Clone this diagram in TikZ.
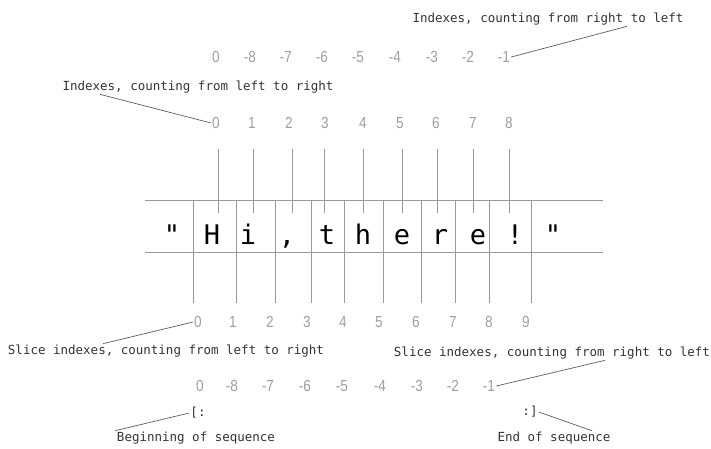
\documentclass[tikz,border=0pt]{standalone}
\usepackage{fontspec}
\usepackage{tikz}
\newfontfamily\notefont{DejaVu Sans Mono}
\newfontfamily\numfont[FakeStretch=0.85]{Liberation Sans}
\newfontfamily\glyphfont{DejaVu Sans Mono}
\definecolor{rulegray}{gray}{0.6}
\definecolor{numgray}{gray}{0.62}
\definecolor{noteink}{gray}{0.2}

\begin{document}
\begin{tikzpicture}[x=1pt, y=-1pt, every node/.style={inner sep=1pt},
	idx/.style={font=\numfont\fontsize{16}{16}\selectfont, text=numgray},
	note/.style={font=\notefont\fontsize{12.5}{12.5}\selectfont, text=noteink},
	glyph/.style={font=\glyphfont\fontsize{27}{27}\selectfont, anchor=base},
	rule/.style={draw=rulegray, line width=0.8pt},
	callout/.style={draw=noteink!80, line width=0.7pt}]
	\useasboundingbox (0,0) rectangle (711,448);
	% the string in its cells
	\draw[rule] (145,200) -- (603,200);
	\draw[rule] (145,252) -- (603,252);
	\foreach \x/\c [count=\i] in {172/{"},212/H,248/i,287/{,},327/t,363/h,402/e,440/r,478/e,515/!,553/{"}}
		\node[glyph] (ch\i) at (\x,244) {\c};
	\foreach \x in {218,253,292,324,363,402,437,473,509}
		\draw[rule] (\x,149) -- (\x,213);
	\foreach \x in {193,236,275,311,344,383,421,455,489,531}
		\draw[rule] (\x,200) -- (\x,303);
	% index numbers
	\foreach \x/\t [count=\i] in {216/0,250/-8,286/-7,322/-6,358/-5,395/-4,432/-3,468/-2,504/-1}
		\node[idx] (negtop\i) at (\x,57) {\t};
	\foreach \x/\t [count=\i] in {216/0,252/1,289/2,325/3,363/4,400/5,436/6,473/7,509/8}
		\node[idx] (top\i) at (\x,123) {\t};
	\foreach \x/\t [count=\i] in {198/0,233/1,270/2,307/3,343/4,379/5,416/6,453/7,489/8,526/9}
		\node[idx] (slice\i) at (\x,322) {\t};
	\foreach \x/\t [count=\i] in {200/0,232/-8,268/-7,305/-6,342/-5,380/-4,417/-3,453/-2,489/-1}
		\node[idx] (negslice\i) at (\x,386) {\t};
	% notes and their callouts
	\node[note] (fromright) at (548,19) {Indexes, counting from right to left};
	\node[note] (fromleft) at (198,87) {Indexes, counting from left to right};
	\node[note] (slicefromleft) at (166,351) {Slice indexes, counting from left to right};
	\node[note] (slicefromright) at (552,353) {Slice indexes, counting from right to left};
	\node[note] (openslice) at (198,413) {[:};
	\node[note] (closeslice) at (530,412) {:]};
	\node[note] (begseq) at (196,438) {Beginning of sequence};
	\node[note] (endseq) at (554,438) {End of sequence};
	\draw[callout] (negtop9.east) -- ([xshift=79pt]fromright.south);
	\draw[callout] ([xshift=-98pt]fromleft.south) -- (top1.west);
	\draw[callout] ([xshift=-63pt]slicefromleft.north) -- (slice1.west);
	\draw[callout] (negslice9.east) -- ([xshift=53pt]slicefromright.south);
	\draw[callout] ([xshift=-81pt]begseq.north) -- (openslice.west);
	\draw[callout] (closeslice.east) -- ([xshift=38pt]endseq.north);
\end{tikzpicture}
\end{document}
